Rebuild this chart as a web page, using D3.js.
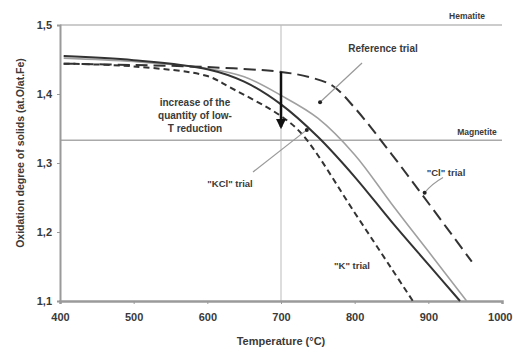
<!DOCTYPE html>
<html>
<head>
<meta charset="utf-8">
<script src="https://cdn.jsdelivr.net/npm/d3@7"></script>
<style>
  body { margin: 0; background: #fff; }
  text { font-family: "Liberation Sans", Arial, sans-serif; font-weight: bold; fill: #3a3a3a; }
</style>
</head>
<body>
<svg id="chart" width="513" height="352"></svg>
<script>
// data: [temperature, oxidation degree]
const clTrial = [[405,1.444],[500,1.442],[600,1.439],[700,1.432],[740,1.424],[770,1.412],[800,1.38],[850,1.313],[900,1.242],[959,1.157]];
const refTrial = [[405,1.452],[500,1.447],[600,1.437],[650,1.425],[700,1.398],[750,1.365],[800,1.312],[850,1.241],[900,1.172],[952,1.1]];
const kclTrial = [[405,1.455],[500,1.449],[600,1.436],[650,1.418],[700,1.385],[750,1.338],[800,1.28],[850,1.215],[900,1.153],[943,1.1]];
const kTrial = [[405,1.444],[500,1.44],[600,1.426],[630,1.41],[700,1.368],[730,1.34],[800,1.228],[850,1.147],[879,1.1]];

const xTicks = [400,500,600,700,800,900,1000];
const yTicks = [1.1,1.2,1.3,1.4,1.5];
const hematite = 1.5;
const magnetite = 1.333;
const markT = 700;
const arrowFromTo = [1.432, 1.352];

const svg = d3.select("#chart");
const x = d3.scaleLinear().domain([400,1000]).range([60,502]);
const y = d3.scaleLinear().domain([1.1,1.5]).range([301,25]);

const grey = "#9a9a9a";

// reference lines
svg.append("line")
  .attr("x1", x(400)).attr("x2", x(1000))
  .attr("y1", y(hematite)).attr("y2", y(hematite))
  .attr("stroke", "#bbb").attr("stroke-width", 1.5);
svg.append("line")
  .attr("x1", x(400)).attr("x2", x(1000))
  .attr("y1", y(magnetite)).attr("y2", y(magnetite))
  .attr("stroke", "#aaa").attr("stroke-width", 1.5);
svg.append("line")
  .attr("x1", x(markT)).attr("x2", x(markT))
  .attr("y1", y(1.5)).attr("y2", y(1.1))
  .attr("stroke", "#bbb").attr("stroke-width", 1);

svg.append("text").attr("x", 467).attr("y", 16).attr("text-anchor", "middle")
  .attr("dominant-baseline", "central").attr("font-size", 8.5).text("Hematite");
svg.append("text").attr("x", 477).attr("y", 132).attr("text-anchor", "middle")
  .attr("dominant-baseline", "central").attr("font-size", 8.5).text("Magnetite");

// axes
const fmt = d => d3.format(".1f")(d).replace(".", ",");
const yAxis = svg.append("g").attr("transform", `translate(${x(400)},0)`)
  .call(d3.axisLeft(y).tickValues(yTicks).tickFormat(fmt).tickSize(3).tickPadding(5));
const xAxis = svg.append("g").attr("transform", `translate(0,${y(1.1)})`)
  .call(d3.axisBottom(x).tickValues(xTicks).tickFormat(d3.format("d")).tickSize(3).tickPadding(9));
yAxis.select(".domain").attr("stroke", grey).attr("stroke-width", 2);
xAxis.select(".domain").attr("stroke", grey).attr("stroke-width", 2.5);
svg.selectAll(".tick line").attr("stroke", grey);
svg.selectAll(".tick text").attr("font-size", 11).attr("font-weight", "bold").attr("fill", "#444")
  .style("font-family", "'Liberation Sans', Arial, sans-serif");
// last x label sits at the right edge of the picture
xAxis.selectAll(".tick").filter(d => d === 1000).select("text")
  .attr("text-anchor", "end").attr("x", 10);

// curves
const line = d3.line().x(d => x(d[0])).y(d => y(d[1])).curve(d3.curveCatmullRom.alpha(0.5));
svg.append("path").datum(refTrial).attr("d", line)
  .attr("fill", "none").attr("stroke", "#a0a0a0").attr("stroke-width", 1.6);
svg.append("path").datum(kclTrial).attr("d", line)
  .attr("fill", "none").attr("stroke", "#333").attr("stroke-width", 2);
svg.append("path").datum(clTrial).attr("d", line)
  .attr("fill", "none").attr("stroke", "#333").attr("stroke-width", 2).attr("stroke-dasharray", "12,6");
svg.append("path").datum(kTrial).attr("d", line)
  .attr("fill", "none").attr("stroke", "#333").attr("stroke-width", 2).attr("stroke-dasharray", "6,4");

// arrow
svg.append("defs").append("marker").attr("id", "head")
  .attr("viewBox", "0 0 10 10").attr("refX", 8).attr("refY", 5)
  .attr("markerWidth", 4).attr("markerHeight", 4).attr("orient", "auto")
  .append("path").attr("d", "M0,0L10,5L0,10z").attr("fill", "#111");
svg.append("line")
  .attr("x1", x(markT)).attr("x2", x(markT))
  .attr("y1", y(arrowFromTo[0])).attr("y2", y(arrowFromTo[1]))
  .attr("stroke", "#111").attr("stroke-width", 2.5).attr("marker-end", "url(#head)");

// pointers
function pointer(from, to) {
  svg.append("line")
    .attr("x1", x(from[0])).attr("y1", y(from[1]))
    .attr("x2", x(to[0])).attr("y2", y(to[1]))
    .attr("stroke", "#999").attr("stroke-width", 1.2);
  svg.append("circle").attr("cx", x(to[0])).attr("cy", y(to[1])).attr("r", 2).attr("fill", "#222");
}
pointer([810,1.445], [753,1.388]);
pointer([662,1.287], [735,1.348]);
svg.append("path")
  .attr("d", `M${x(920)},${y(1.279)} Q${x(905)},${y(1.27)} ${x(895)},${y(1.257)}`)
  .attr("fill", "none").attr("stroke", "#999").attr("stroke-width", 1.2);
svg.append("circle").attr("cx", x(895)).attr("cy", y(1.257)).attr("r", 2).attr("fill", "#222");

// labels
function label(t, px, py, size) {
  svg.append("text").attr("x", px).attr("y", py).attr("text-anchor", "middle")
    .attr("dominant-baseline", "central").attr("font-size", size).text(t);
}
label("Reference trial", 383, 48, 10);
label("\"KCl\" trial", 230, 183, 9.5);
label("\"Cl\" trial", 446, 172, 9.5);
label("\"K\" trial", 352, 265, 9.5);
label("increase of the", 195, 102, 10);
label("quantity of low-", 195, 115, 10);
label("T reduction", 195, 128, 10);

// axis titles
svg.append("text").attr("x", 281).attr("y", 341).attr("text-anchor", "middle")
  .attr("dominant-baseline", "central").attr("font-size", 11).text("Temperature (°C)");
svg.append("text").attr("transform", "translate(20,153) rotate(-90)").attr("text-anchor", "middle")
  .attr("dominant-baseline", "central").attr("font-size", 10.5).text("Oxidation degree of solids (at.O/at.Fe)");
</script>
</body>
</html>
